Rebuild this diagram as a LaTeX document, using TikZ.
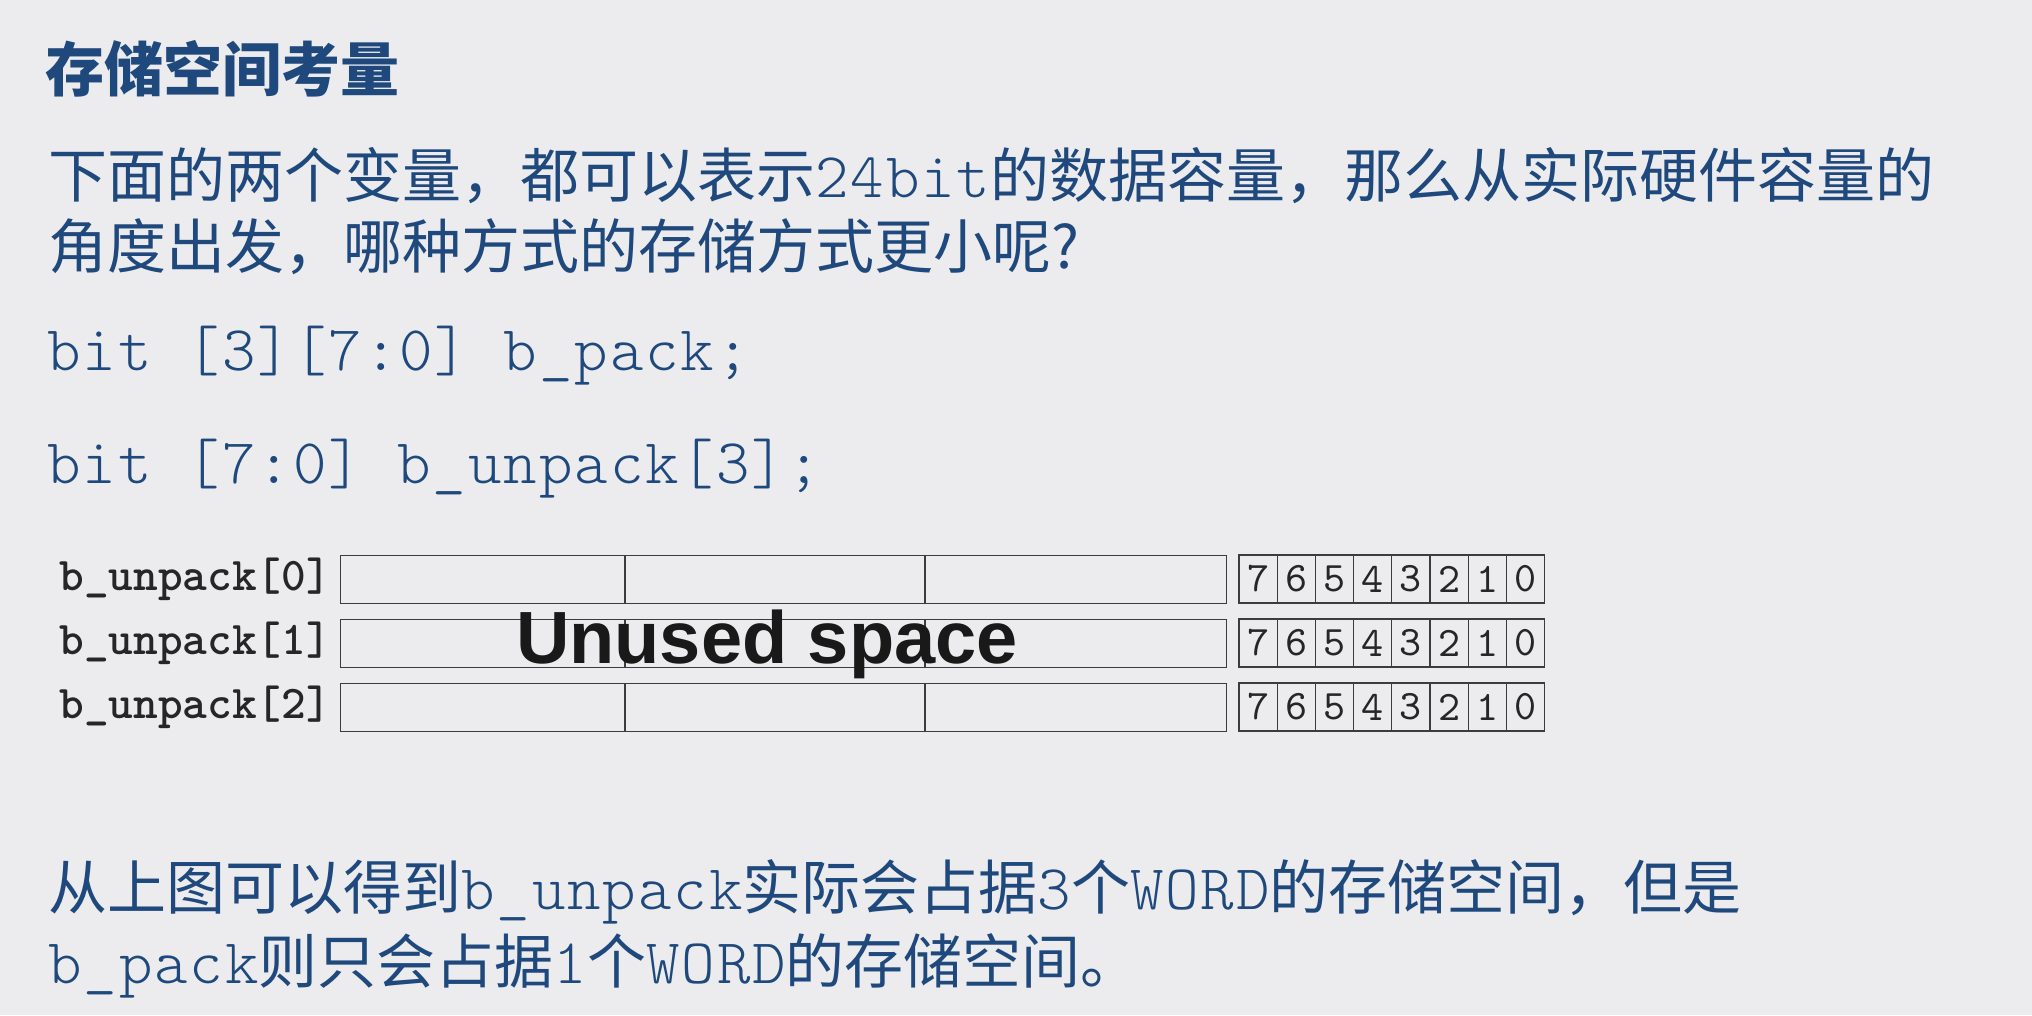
\documentclass[tikz,border=0pt]{standalone}
\usepackage{fontspec}
\newfontfamily\cjk{Noto Sans CJK SC}
\newfontfamily\code{lmmonolt10-regular.otf}[Scale=1.08,LetterSpace=3.1]
\newfontfamily\codebf{lmmonolt10-bold.otf}
\newfontfamily\digitfont{lmmono10-regular.otf}
\setsansfont{Liberation Sans}
\newcommand\mono[1]{{\code #1}}

\definecolor{slideblue}{RGB}{31,73,125}
\definecolor{slidebg}{RGB}{236,236,238}
\definecolor{boxline}{RGB}{60,60,60}

\tikzset{
  heading/.style={anchor=base west, inner sep=0pt, text=slideblue,
    font=\cjk\bfseries\fontsize{59}{59}\selectfont},
  body/.style={anchor=base west, inner sep=0pt, text=slideblue,
    font=\cjk\fontsize{59}{59}\selectfont},
  codeline/.style={anchor=base west, inner sep=0pt, text=slideblue,
    font=\code\fontsize{59}{59}\selectfont},
  rowlabel/.style={anchor=east, inner sep=0pt, text=black!85,
    font=\codebf\fontsize{47}{47}\selectfont},
  word/.style={draw=boxline, line width=1.2pt, minimum width=886pt,
    minimum height=48pt, inner sep=0pt, anchor=north west},
  bitcell/.style={draw=boxline, line width=1.2pt, minimum width=38.2pt,
    minimum height=48pt, inner sep=0pt, text=black!85,
    font=\digitfont\fontsize{42}{42}\selectfont},
}

\begin{document}
\begin{tikzpicture}[x=1pt,y=-1pt]
\useasboundingbox[fill=slidebg] (0,0) rectangle (2032,1015);

% heading and question
\node[heading] (title) at (45,91) {存储空间考量};
\node[body] (q1) at (48,197) {下面的两个变量，都可以表示\mono{24bit}的数据容量，那么从实际硬件容量的};
\node[body] (q2) at (48,268) {角度出发，哪种方式的存储方式更小呢?};

% declarations
\node[codeline] (pack) at (47,370) {bit [3][7:0] b\_pack;};
\node[codeline] (unpack) at (47,483) {bit [7:0] b\_unpack[3];};

% memory words
\foreach \i/\y in {0/555,1/619,2/683} {
  \node[word] (w\i) at (340,\y) {};
  \draw[boxline, line width=1.2pt] (625,\y) -- (625,\y+48);
  \draw[boxline, line width=1.2pt] (925,\y) -- (925,\y+48);
  \node[rowlabel] (lab\i) at (331,\y+24) {b\_unpack[\i]};
  \foreach \k in {0,...,7} {
    \pgfmathtruncatemacro\bit{7-\k}
    \node[bitcell] (b\i-\k) at (1239+38.2*\k+19.1,\y+24) {\bit};
  }
}
\node[anchor=base, inner sep=0pt, text=black!90,
  font=\sffamily\bfseries\fontsize{74}{74}\selectfont] (unused) at (767,663) {Unused space};

% conclusion
\node[body] (sum1) at (48,909) {从上图可以得到\mono{b\_unpack}实际会占据\mono{3}个\mono{WORD}的存储空间，但是};
\node[body] (sum2) at (48,983) {\mono{b\_pack}则只会占据\mono{1}个\mono{WORD}的存储空间。};
\end{tikzpicture}
\end{document}
